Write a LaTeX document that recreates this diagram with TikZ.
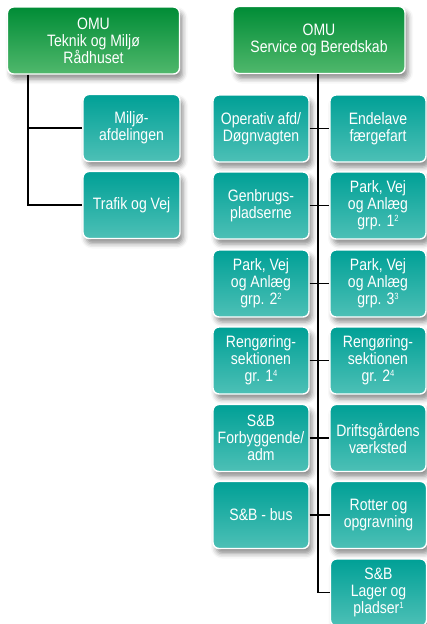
\documentclass[tikz,border=0pt]{standalone}
\usepackage{fontspec}
\setmainfont[FakeStretch=0.85]{Liberation Sans}
\usetikzlibrary{shadows.blur}
\definecolor{gtop}{HTML}{008C36}
\definecolor{gbot}{HTML}{50B86C}
\definecolor{ttop}{HTML}{00A096}
\definecolor{tbot}{HTML}{4DC0B6}
\tikzset{
  box/.style={draw=white, line width=1.4pt, rounded corners=6pt, text=white,
    align=center, inner sep=0pt,
    font=\fontsize{16.5}{17}\selectfont,
    blur shadow={shadow xshift=3pt, shadow yshift=-5pt, shadow blur radius=5pt, shadow opacity=45}},
  greenbox/.style={box, top color=gtop, bottom color=gbot, minimum width=172pt, minimum height=67pt},
  tealbox/.style={box, top color=ttop, bottom color=tbot, minimum width=96pt, minimum height=67pt},
  conn/.style={draw=black, line width=1.8pt}
}
\newcommand{\supx}[1]{\raisebox{0.6ex}{\fontsize{9}{9}\selectfont #1}}
\begin{document}
\begin{tikzpicture}[x=1pt,y=-1pt]
\useasboundingbox (0,0) rectangle (427,624);
\coordinate (lv0) at (28,74);
\coordinate (lv1) at (28,128);
\coordinate (lv2) at (28,205);
\coordinate (rv0) at (318,74);
% boxes
\node[greenbox] (tm) at (93.5,40.5) {OMU\\Teknik og Miljø\\Rådhuset};
\node[greenbox] (sb) at (319,40) {OMU\\Service og Beredskab};
\node[tealbox, minimum width=97pt] (mil) at (131.5,128) {Miljø-\\afdelingen};
\node[tealbox, minimum width=97pt] (tra) at (131.5,205) {Trafik og Vej};
\node[tealbox] (l1) at (261,128.5) {Operativ afd/\\Døgnvagten};
\node[tealbox] (r1) at (378,128.5) {Endelave\\færgefart};
\node[tealbox] (l2) at (261,205.5) {Genbrugs-\\pladserne};
\node[tealbox] (r2) at (378,205.5) {Park, Vej\\og Anlæg\\grp. 1\supx{2}};
\node[tealbox] (l3) at (261,283.5) {Park, Vej\\og Anlæg\\grp. 2\supx{2}};
\node[tealbox] (r3) at (378,283.5) {Park, Vej\\og Anlæg\\grp. 3\supx{3}};
\node[tealbox] (l4) at (261,360.5) {Rengøring-\\sektionen\\gr. 1\supx{4}};
\node[tealbox] (r4) at (378,360.5) {Rengøring-\\sektionen\\gr. 2\supx{4}};
\node[tealbox] (l5) at (261,438) {S\&B\\Forbyggende/\\adm};
\node[tealbox] (r5) at (378,438) {Driftsgårdens\\værksted};
\node[tealbox] (l6) at (261,515) {S\&B - bus};
\node[tealbox] (r6) at (378.5,515) {Rotter og\\opgravning};
\node[tealbox] (r7) at (378.5,592.5) {S\&B\\Lager og\\pladser\supx{1}};
% connectors
\draw[conn] (tm.south -| lv0) -- (lv2) -- (tra.west);
\draw[conn] (lv1) -- (mil.west);
\draw[conn] (sb.south -| rv0) -- (rv0 |- r7.west) -- (r7.west);
\draw[conn] (l1.east) -- (r1.west);
\draw[conn] (l2.east) -- (r2.west);
\draw[conn] (l3.east) -- (r3.west);
\draw[conn] (l4.east) -- (r4.west);
\draw[conn] (l5.east) -- (r5.west);
\draw[conn] (l6.east) -- (r6.west);
\end{tikzpicture}
\end{document}
